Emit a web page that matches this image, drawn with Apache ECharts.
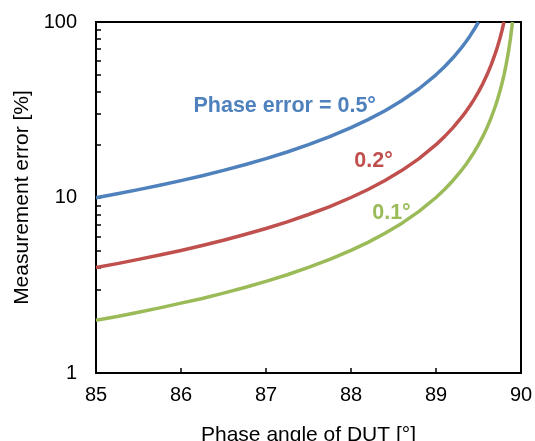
<!DOCTYPE html>
<html>
<head>
<meta charset="utf-8">
<script src="https://cdn.jsdelivr.net/npm/echarts@6/dist/echarts.min.js"></script>
<style>html,body{margin:0;padding:0;background:#fff}#c{width:535px;height:441px}</style>
</head>
<body>
<div id="c"></div>
<script>
// Phase angle of DUT [°] (shared sample positions)
var angles = [85, 85.25, 85.5, 85.75, 86, 86.25, 86.5, 86.75, 87, 87.25, 87.5, 87.75, 88, 88.2, 88.4, 88.6, 88.8,
              89, 89.1, 89.2, 89.3, 89.35, 89.4, 89.45, 89.5, 89.55, 89.6, 89.65, 89.7, 89.725, 89.75, 89.775, 89.8,
              89.825, 89.85, 89.875, 89.9];
// Measurement error [%]
var errorBlue  = [9.975, 10.50, 11.09, 11.74, 12.48, 13.31, 14.27, 15.37, 16.65, 18.17, 19.99, 22.21, 24.99, 27.77, 31.24, 35.71, 41.66,
                  50.0, 55.55, 62.50, 71.43, 76.92, 83.33, 90.91, 100];
var errorRed   = [3.99, 4.20, 4.44, 4.70, 4.99, 5.33, 5.71, 6.15, 6.66, 7.27, 8.00, 8.88, 10.0, 11.11, 12.50, 14.28, 16.66,
                  20.0, 22.22, 25.0, 28.57, 30.77, 33.33, 36.36, 40.0, 44.44, 50.0, 57.14, 66.67, 72.73, 80.0, 88.89, 100];
var errorGreen = [2.0, 2.10, 2.22, 2.35, 2.50, 2.66, 2.85, 3.07, 3.33, 3.63, 4.0, 4.44, 5.0, 5.55, 6.25, 7.14, 8.33,
                  10.0, 11.11, 12.5, 14.29, 15.38, 16.67, 18.18, 20.0, 22.22, 25.0, 28.57, 33.33, 36.36, 40.0, 44.44, 50.0,
                  57.14, 66.67, 80.0, 100];
var seriesNames = ['Phase error = 0.5°', '0.2°', '0.1°'];
var xTicks = [85, 86, 87, 88, 89, 90];
var yLabels = [1, 10, 100];
var yTickValues = [1,2,3,4,5,6,7,8,9,10,20,30,40,50,60,70,80,90,100];
// annotation anchor points [angle, error]
var labelAnchors = [[87.22, 33.2], [88.265, 16.15], [88.476, 8.16]];

var colors = ['#4F81BD', '#C0504D', '#9BBB59'];
function zip(a, b) { return b.map(function (v, i) { return [a[i], v]; }); }
var lines = [zip(angles, errorBlue), zip(angles, errorRed), zip(angles, errorGreen)];

var font = 'Arial, "Liberation Sans", sans-serif';
var chart = echarts.init(document.getElementById('c'), null, {renderer: 'canvas'});
var series = lines.map(function (d, i) {
  return {
    type: 'line', data: d, showSymbol: false, smooth: false,
    lineStyle: {color: colors[i], width: 3.5, join: 'round', cap: 'butt'}, itemStyle: {color: colors[i]},
    clip: true, silent: true, z: 3,
    markPoint: {
      symbol: 'circle', symbolSize: 0, silent: true,
      data: [{coord: labelAnchors[i], value: seriesNames[i]}],
      label: {show: true, position: 'inside', formatter: seriesNames[i], color: colors[i],
              fontFamily: font, fontWeight: 'bold', fontSize: 21.5}
    }
  };
});
chart.setOption({
  animation: false,
  grid: {left: 96, right: 14, top: 22, bottom: 68, containLabel: false, outerBoundsMode: 'none',
         show: true, borderColor: '#000', borderWidth: 2, backgroundColor: 'transparent'},
  xAxis: {
    type: 'value', min: 85, max: 90, interval: 1,
    name: 'Phase angle of DUT [°]', nameLocation: 'middle', nameGap: 52,
    nameTextStyle: {fontFamily: font, fontSize: 21, color: '#000'},
    axisLine: {show: true, lineStyle: {color: '#000', width: 2}},
    axisTick: {show: true, inside: true, length: 5, lineStyle: {color: '#000', width: 1.5}},
    axisLabel: {margin: 12, fontFamily: font, fontSize: 20, color: '#000', customValues: xTicks},
    splitLine: {show: false}
  },
  yAxis: {
    type: 'log', min: 1, max: 100, logBase: 10,
    name: 'Measurement error [%]', nameLocation: 'middle', nameGap: 62,
    nameTextStyle: {fontFamily: font, fontSize: 21, color: '#000'},
    axisLine: {show: true, lineStyle: {color: '#000', width: 2}},
    axisTick: {show: true, inside: true, length: 5, lineStyle: {color: '#000', width: 1.5}, customValues: yTickValues},
    axisLabel: {margin: 19, fontFamily: font, fontSize: 20, color: '#000', customValues: yLabels},
    splitLine: {show: false}
  },
  series: series
});
</script>
</body>
</html>
